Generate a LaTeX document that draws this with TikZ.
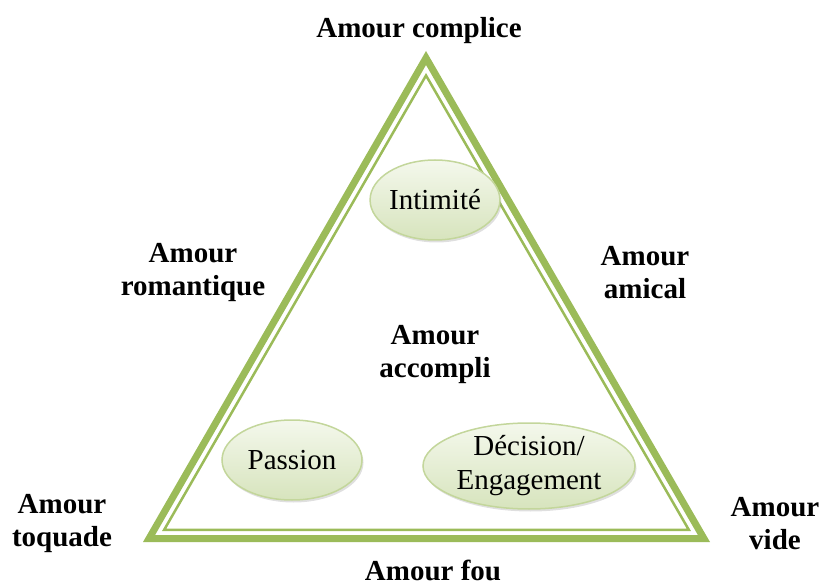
\documentclass[tikz,border=0pt]{standalone}
\usepackage{fontspec}
\setmainfont{Liberation Serif}
\usetikzlibrary{shapes.geometric,shadows}
\definecolor{olive}{HTML}{9BBB59}
\definecolor{palegreen}{HTML}{C3D69B}
\definecolor{lightgreen}{HTML}{D7E4BD}
\definecolor{whitegreen}{HTML}{F4F8EC}
\tikzset{
  kind/.style={font=\fontsize{29}{33}\selectfont\bfseries, align=center, inner sep=0pt},
  part/.style={ellipse, draw=palegreen, line width=1.5pt, top color=whitegreen,
    bottom color=lightgreen, font=\fontsize{29}{34}\selectfont, align=center,
    inner sep=0pt, drop shadow={opacity=.25, shadow xshift=1.5pt, shadow yshift=-2.5pt}}
}
\begin{document}
\begin{tikzpicture}[x=1pt,y=-1pt]
\def\tri{(426,51) -- (143,542) -- (710,542) -- cycle}
\useasboundingbox (0,0) rectangle (830,585);
    \begin{scope}[shift={(426.3,378.3)}, scale=.9786, shift={(-426.3,-378.3)}]% thick outer band
        \draw[olive, line width=7pt] \tri;
    \end{scope}
    \begin{scope}[shift={(426.3,378.3)}, scale=.9252, shift={(-426.3,-378.3)}]% thin inner line
        \draw[olive, line width=2.5pt] \tri;
    \end{scope}
\node[part, minimum width=120, minimum height=80] (intimite) at (435,200) {Intimité};
\node[part, minimum width=140, minimum height=80] (passion) at (292,460) {Passion};
\node[part, minimum width=212, minimum height=86] (decision) at (529,466) {Décision/\\Engagement};
\node[kind, anchor=base] (complice) at (419,38) {Amour complice};
\node[kind] (romantique) at (193,273) {Amour\\romantique};
\node[kind] (amical) at (645,273) {Amour\\amical};
\node[kind] (accompli) at (435,355) {Amour\\accompli};
\node[kind] (toquade) at (62,524) {Amour\\toquade};
\node[kind] (vide) at (775,524) {Amour\\vide};
\node[kind, anchor=base] (fou) at (433,580) {Amour fou};
\end{tikzpicture}
\end{document}
